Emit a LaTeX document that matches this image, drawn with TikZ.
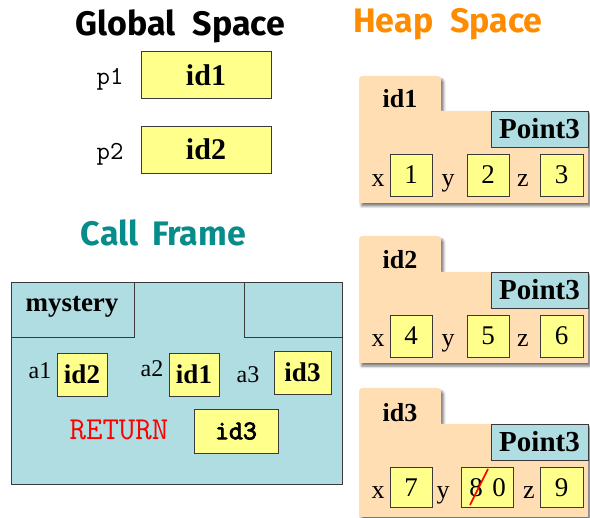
\documentclass[tikz,border=0pt]{standalone}
\usepackage{fontspec}
\setmainfont{Liberation Serif}
\newfontfamily\titlefont{Fira Sans}
\newfontfamily\ttbold{Latin Modern Mono}[FakeBold=3]
\usetikzlibrary{shadows.blur}

\definecolor{valyellow}{HTML}{FFFF8C}
\definecolor{heapfill}{HTML}{FFDEB4}
\definecolor{frameblue}{HTML}{B0DDE2}
\definecolor{heaporange}{HTML}{FF8C00}
\definecolor{frameteal}{HTML}{078C8C}
\definecolor{edgegray}{HTML}{3A3A3A}

\tikzset{
  title/.style={font=\titlefont\bfseries\fontsize{34}{36}\selectfont, anchor=base, inner sep=0pt},
  valbox/.style={draw=edgegray, fill=valyellow, line width=0.9pt, inner sep=0pt, anchor=center},
  idtxt/.style={font=\bfseries\fontsize{27}{28}\selectfont},
  bigidtxt/.style={font=\bfseries\fontsize{30}{32}\selectfont},
  vartxt/.style={font=\ttfamily\fontsize{26}{28}\selectfont, anchor=base, inner sep=0pt},
  lbl/.style={font=\fontsize{24}{26}\selectfont, anchor=base, inner sep=0pt},
  fieldlbl/.style={font=\fontsize{26}{28}\selectfont, anchor=base, inner sep=0pt},
  numtxt/.style={font=\fontsize{27}{28}\selectfont},
  classbox/.style={draw=edgegray, fill=frameblue, line width=0.9pt, inner sep=0pt,
    minimum width=97, minimum height=36, font=\bfseries\fontsize{29}{30}\selectfont},
  tabtxt/.style={font=\bfseries\fontsize{26}{28}\selectfont, anchor=base, inner sep=0pt},
  folder/.style={fill=heapfill, blur shadow={shadow xshift=2.5pt, shadow yshift=-3pt,
    shadow blur radius=2.5pt, shadow opacity=55}},
}

\begin{document}
\begin{tikzpicture}[x=1pt,y=-1pt]
\useasboundingbox (0,0) rectangle (590,518);

% section titles
\node[title] (gtitle) at (180.5,36) {Global\hspace{0.5em}Space};
\node[title, text=heaporange] (htitle) at (448,33) {Heap\hspace{0.5em}Space};
\node[title, text=frameteal] (ctitle) at (163.5,246) {Call\hspace{0.4em}Frame};

% global variables
\node[vartxt] (p1name) at (110,85) {p1};
\node[valbox, bigidtxt, minimum width=130, minimum height=47] (p1val) at (206,75) {id1};
\node[vartxt] (p2name) at (110,160) {p2};
\node[valbox, bigidtxt, minimum width=130, minimum height=47] (p2val) at (206,149.5) {id2};

% call frame for mystery
\node[draw=edgegray, fill=frameblue, line width=0.9pt, inner sep=0pt,
      minimum width=331, minimum height=202] (frame) at (176.5,383) {};
\draw[edgegray, line width=0.9pt] (134,282) -- (134,337) -- (11,337);
\draw[edgegray, line width=0.9pt] (244,282) -- (244,337) -- (342,337);
\node[tabtxt, font=\bfseries\fontsize{27}{28}\selectfont] (fname) at (72,312) {mystery};

\node[lbl] (a1name) at (40,379) {a1};
\node[valbox, idtxt, minimum width=50, minimum height=43] (a1val) at (82,374.5) {id2};
\node[lbl] (a2name) at (152,377) {a2};
\node[valbox, idtxt, minimum width=50, minimum height=43] (a2val) at (194,374.5) {id1};
\node[lbl] (a3name) at (248,383) {a3};
\node[valbox, idtxt, minimum width=57, minimum height=43] (a3val) at (302.5,372.5) {id3};

\node[font=\ttfamily\fontsize{32}{34}\selectfont, text=red, anchor=base, inner sep=0pt] (retname) at (119,440) {RETURN};
\node[valbox, font=\ttbold\fontsize{27}{28}\selectfont, minimum width=84, minimum height=44] (retval) at (236,431) {id3};

% heap object id1
\begin{scope}[shift={(0,76)}]
  \path[folder] (359,127) -- (359,8) .. controls (359,0) .. (367,0) -- (433,0)
    .. controls (441,0) .. (441,8) -- (441,35) -- (588,35) -- (588,127) -- cycle;
  \node[tabtxt] (o1tab) at (400,32) {id1};
  \node[classbox] (o1cls) at (539.5,53) {Point3};
  \node[fieldlbl] (o1xl) at (378,111) {x};
  \node[valbox, numtxt, minimum width=42, minimum height=42] (o1x) at (411,99) {1};
  \node[fieldlbl] (o1yl) at (448,111) {y};
  \node[valbox, numtxt, minimum width=42, minimum height=42] (o1y) at (488,99) {2};
  \node[fieldlbl] (o1zl) at (523,111) {z};
  \node[valbox, numtxt, minimum width=43, minimum height=42] (o1z) at (561.5,99) {3};
\end{scope}

% heap object id2
\begin{scope}[shift={(0,236)}]
  \path[folder] (359,127) -- (359,8) .. controls (359,0) .. (367,0) -- (433,0)
    .. controls (441,0) .. (441,8) -- (441,36) -- (588,36) -- (588,127) -- cycle;
  \node[tabtxt] (o2tab) at (400,33) {id2};
  \node[classbox] (o2cls) at (539.5,54) {Point3};
  \node[fieldlbl] (o2xl) at (378,111) {x};
  \node[valbox, numtxt, minimum width=42, minimum height=42] (o2x) at (411,100) {4};
  \node[fieldlbl] (o2yl) at (448,111) {y};
  \node[valbox, numtxt, minimum width=42, minimum height=42] (o2y) at (488,100) {5};
  \node[fieldlbl] (o2zl) at (523,111) {z};
  \node[valbox, numtxt, minimum width=43, minimum height=42] (o2z) at (561.5,100) {6};
\end{scope}

% heap object id3, with y changed from 8 to 0
\begin{scope}[shift={(0,388)}]
  \path[folder] (359,129) -- (359,8) .. controls (359,0) .. (367,0) -- (433,0)
    .. controls (441,0) .. (441,8) -- (441,36) -- (588,36) -- (588,129) -- cycle;
  \node[tabtxt] (o3tab) at (400,34) {id3};
  \node[classbox] (o3cls) at (539.5,54) {Point3};
  \node[fieldlbl] (o3xl) at (378,111) {x};
  \node[valbox, numtxt, minimum width=42, minimum height=40] (o3x) at (411,99.5) {7};
  \node[fieldlbl] (o3yl) at (443,111) {y};
  \node[valbox, minimum width=52, minimum height=40] (o3y) at (487,99.5) {};
  \node[numtxt, inner sep=0pt] (o3old) at (476,99.5) {8};
  \node[numtxt, inner sep=0pt] (o3new) at (499,99.5) {0};
  \draw[red, line width=1.6pt] (470,117) -- (488,81);
  \node[fieldlbl] (o3zl) at (529,111) {z};
  \node[valbox, numtxt, minimum width=43, minimum height=40] (o3z) at (561.5,99.5) {9};
\end{scope}
\end{tikzpicture}
\end{document}
